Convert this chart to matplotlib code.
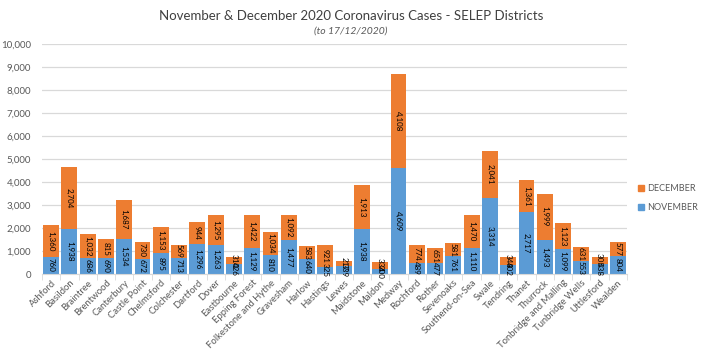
import matplotlib
matplotlib.use("Agg")
import matplotlib.pyplot as plt
import numpy as np
from matplotlib.patches import Patch

plt.rcParams['font.family'] = ['Lato', 'DejaVu Sans']

districts = ["Ashford", "Basildon", "Braintree", "Brentwood", "Canterbury", "Castle Point",
             "Chelmsford", "Colchester", "Dartford", "Dover", "Eastbourne", "Epping Forest",
             "Folkestone and Hythe", "Gravesham", "Harlow", "Hastings", "Lewes", "Maidstone",
             "Maldon", "Medway", "Rochford", "Rother", "Sevenoaks", "Southend-on-Sea", "Swale",
             "Tendring", "Thanet", "Thurrock", "Tonbridge and Malling", "Tunbridge Wells",
             "Uttlesford", "Wealden"]
november = [760, 1938, 686, 690, 1534, 672, 895, 713, 1296, 1263, 426, 1129, 810, 1477, 640,
            325, 339, 1938, 200, 4609, 489, 477, 761, 1110, 3314, 402, 2717, 1493, 1099, 553,
            438, 804]
december = [1360, 2704, 1032, 815, 1687, 730, 1153, 569, 944, 1295, 310, 1422, 1034, 1092, 583,
            921, 217, 1913, 334, 4108, 774, 651, 581, 1470, 2041, 348, 1361, 1999, 1123, 631,
            305, 577]
yticks = list(range(0, 10001, 1000))

blue = "#5B9BD5"
orange = "#ED7D31"
txt = "#595959"

fig = plt.figure(figsize=(7.06, 3.56), dpi=100)
ax = fig.add_axes([42/706, 1-274/356, 585/706, 230/356])

x = np.arange(len(districts))
w = 0.87
ax.bar(x, november, w, color=blue, zorder=2)
ax.bar(x, december, w, bottom=november, color=orange, zorder=2)

for xi, n, d in zip(x, november, december):
    ax.text(xi, n/2, f"{n:,}", rotation=-90, ha='center', va='center', fontsize=5.8,
            color='black', zorder=3)
    ax.text(xi, n + d/2, f"{d:,}", rotation=-90, ha='center', va='center', fontsize=5.8,
            color='black', zorder=3)

ax.set_xlim(-0.5, len(districts)-0.5)
ax.set_ylim(0, 10000)
ax.set_yticks(yticks)
ax.set_yticklabels([f"{v:,}" for v in yticks], fontsize=7, color=txt)
ax.yaxis.grid(True, color="#D9D9D9", linewidth=0.9, zorder=0)
ax.tick_params(axis='y', length=0, pad=8)

ax.set_xticks(x)
ax.set_xticklabels(districts, rotation=45, ha='right', rotation_mode='anchor', fontsize=6.8, color=txt)
ax.set_xticks(np.arange(-0.5, len(districts), 1), minor=True)
ax.tick_params(axis='x', which='major', length=0, pad=3)
ax.tick_params(axis='x', which='minor', length=4, color="#D9D9D9")

for s in ['top', 'right', 'left']:
    ax.spines[s].set_visible(False)
ax.spines['bottom'].set_color("#D9D9D9")

fig.text(351/706, 1-16/356, "November & December 2020 Coronavirus Cases - SELEP Districts",
         ha='center', va='center', fontsize=9.5, color="#404040")
fig.text(351/706, 1-31/356, "(to 17/12/2020)", ha='center', va='center', fontsize=7.5,
         style='italic', color=txt)

handles = [Patch(color=orange, label="DECEMBER"), Patch(color=blue, label="NOVEMBER")]
fig.legend(handles=handles, loc='center left', bbox_to_anchor=(636/706, 1-198/356), frameon=False,
           fontsize=6.5, handlelength=0.7, handleheight=0.7, handletextpad=0.35, labelspacing=1.1,
           labelcolor=txt, borderaxespad=0, borderpad=0.2)

fig.savefig("out.png", dpi=100)
